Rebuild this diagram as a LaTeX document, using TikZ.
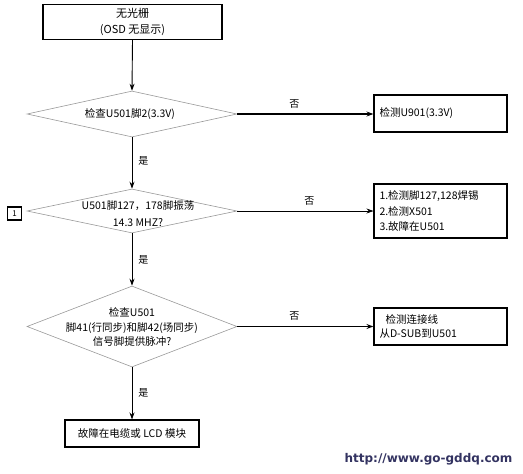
\documentclass[tikz,border=0pt]{standalone}
\usepackage{fontspec}
\setmainfont{Noto Sans CJK SC}
\newfontfamily\urlfont{DejaVu Sans}
\usetikzlibrary{shapes.geometric,arrows.meta}
\begin{document}
\begin{tikzpicture}[x=1pt,y=-1pt,
  txt/.style={font=\fontsize{10.5}{14.5}\selectfont, inner sep=0pt, align=center},
  box/.style={draw=black, line width=1.1pt, inner sep=0pt, font=\fontsize{10.5}{15}\selectfont},
  dia/.style={draw=gray!80, line width=0.6pt, diamond, inner sep=0pt},
  arr/.style={-{Stealth[length=7pt,width=5pt]}, line width=0.9pt},
  harr/.style={-{Stealth[length=7pt,width=5pt]}, line width=1.6pt},
  lbl/.style={font=\fontsize{10}{12}\selectfont, inner sep=0pt}]
\useasboundingbox (0,0) rectangle (523,474);
% top box
\node[box, minimum width=179pt, minimum height=35pt, align=center, font=\fontsize{11}{16}\selectfont] (start) at (132.5,22) {无光栅\\(OSD 无显示)};
% decisions
\node[dia, minimum width=210pt, minimum height=46pt] (d1) at (132,114) {};
\node[txt] (t1) at (130,114) {检查U501脚2(3.3V)};
\node[dia, minimum width=210pt, minimum height=44pt] (d2) at (132,211) {};
\node[txt, font=\fontsize{10.5}{17}\selectfont] (t2) at (138,214) {U501脚127，178脚振荡\\14.3 MHZ?};
\node[dia, minimum width=210pt, minimum height=81pt] (d3) at (132,326.5) {};
\node[txt] (t3) at (132,327) {检查U501\\脚41(行同步)和脚42(场同步)\\信号脚提供脉冲?};
% right boxes
\node[box, minimum width=133pt, minimum height=37pt, align=left, text width=122pt] (r1) at (440.5,113.5) {检测U901(3.3V)};
\node[box, minimum width=133pt, minimum height=54pt, align=left, text width=122pt, font=\fontsize{10.5}{15.5}\selectfont] (r2) at (440.5,211) {1.检测脚127,128焊锡\\2.检测X501\\3.故障在U501};
\node[box, minimum width=133pt, minimum height=37pt, align=left, text width=122pt, font=\fontsize{10.5}{14}\selectfont] (r3) at (440.5,326.5) {\hspace{6pt}检测连接线\\从D-SUB到U501};
% bottom box
\node[box, minimum width=134pt, minimum height=27pt] (end) at (132,433.5) {故障在电缆或 LCD 模块};
% label 1
\node[draw=black, line width=1.1pt, minimum width=14pt, minimum height=13pt, inner sep=0pt, font=\fontsize{8}{9}\selectfont] (one) at (14.5,213.5) {1};
% vertical arrows
\draw[arr] (start.south) -- (d1.north);
\draw[arr] (d1.south) -- node[lbl, right=6pt, pos=0.45] (y1) {是} (d2.north);
\draw[arr] (d2.south) -- node[lbl, right=6pt, pos=0.5] (y2) {是} (d3.north);
\draw[arr] (d3.south) -- node[lbl, right=6pt, pos=0.5] (y3) {是} (end.north);
% horizontal arrows
\draw[harr] (d1.east) -- node[lbl, above=5pt, pos=0.42] (n1) {否} (r1.west |- d1.east);
\draw[arr, line width=0.8pt] (d2.east) -- node[lbl, above=5pt, pos=0.53] (n2) {否} (r2.west |- d2.east);
\draw[harr] (d3.east) -- node[lbl, above=5pt, pos=0.42] (n3) {否} (r3.west |- d3.east);
% url
\node[font=\urlfont\bfseries\fontsize{12}{14}\selectfont, text=black!70!blue!60!gray, inner sep=0pt] (url) at (428.5,459) {http://www.go-gddq.com};
\end{tikzpicture}
\end{document}
